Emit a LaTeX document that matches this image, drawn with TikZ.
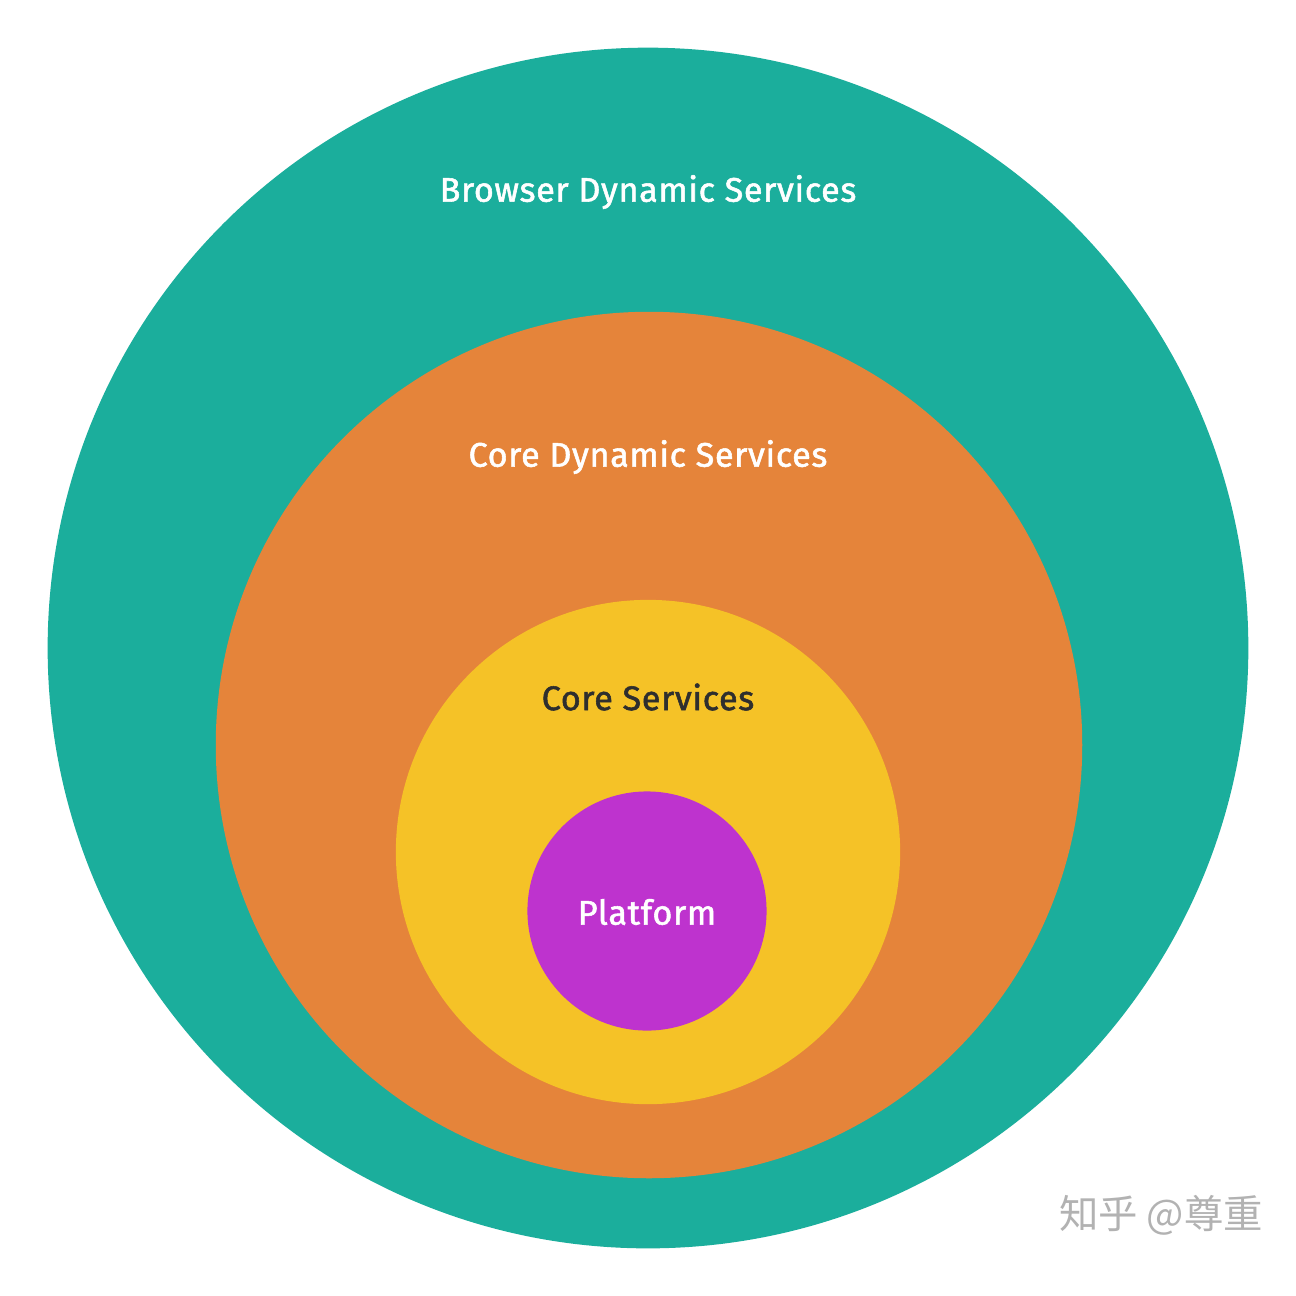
\documentclass[tikz,border=0pt]{standalone}
\usepackage{fontspec}
\setmainfont{Fira Sans}
\newfontfamily\labfont{Fira Sans}[FakeBold=1.6,LetterSpace=2]
\newfontfamily\cjk{Noto Sans CJK SC}
\definecolor{teal1}{HTML}{1BAE9C}
\definecolor{orange1}{HTML}{E5843A}
\definecolor{yellow1}{HTML}{F5C227}
\definecolor{purple1}{HTML}{BE33CE}
\definecolor{dark1}{HTML}{2E2E2E}
\begin{document}
\begin{tikzpicture}[x=0.01cm,y=-0.01cm,
  ring/.style={circle,inner sep=0pt,draw=none},
  lab/.style={font=\labfont\fontsize{9.7}{12}\selectfont}]
\useasboundingbox[fill=white] (0,0) rectangle (1296,1296);
\node[ring,fill=teal1,minimum size=12cm] (b) at (648,648) {};
\node[ring,fill=orange1,minimum size=8.66cm] (c) at (649,745) {};
\node[ring,fill=yellow1,minimum size=5.04cm] (s) at (648,852) {};
\node[ring,fill=purple1,minimum size=2.39cm] (p) at (647,911) {};
\node[lab,text=white] (bl) at (648,192) {Browser Dynamic Services};
\node[lab,text=white] (cl) at (648,457) {Core Dynamic Services};
\node[lab,text=dark1] (sl) at (648,697) {Core Services};
\node[lab,text=white] (pl) at (647,912) {Platform};
\node[text=black!30,font=\cjk\fontsize{11.2}{12}\selectfont] (wm) at (1161,1215) {知乎 @尊重};
\end{tikzpicture}
\end{document}
